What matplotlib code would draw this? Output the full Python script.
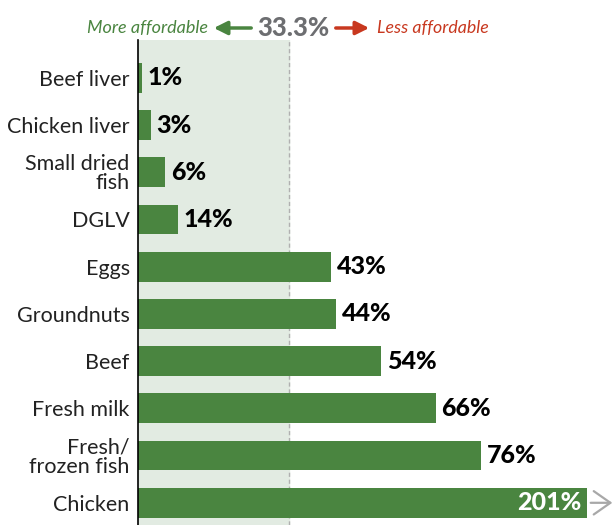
import matplotlib.pyplot as plt

plt.rcParams['font.family'] = ['Lato', 'DejaVu Sans']

# データ
foods = ['Beef liver', 'Chicken liver', 'Small dried\nfish', 'DGLV', 'Eggs',
         'Groundnuts', 'Beef', 'Fresh milk', 'Fresh/\nfrozen fish', 'Chicken']
# bar lengths as drawn in the picture (DGLV bar is drawn shorter than its label)
bar_lengths = [0.9, 2.9, 6, 8.8, 42.6, 43.7, 53.6, 65.6, 75.7, 201]
labels = ['1%', '3%', '6%', '14%', '43%', '44%', '54%', '66%', '76%', '201%']
threshold = 33.3
x_max = 99

green = '#4a8540'
red = '#c8381f'
gray = '#6d6e71'

fig = plt.figure(figsize=(6.16, 5.25), dpi=100)
ax = fig.add_axes([138/616, 0, (587-138)/616, 1 - 40/525])

ypos = list(range(len(foods)))
ax.axvspan(0, threshold, color='#e2ebe2', zorder=0)
ax.axvline(threshold, color='#b0b0b0', linestyle=(0, (3, 2)), linewidth=1, zorder=1)
ax.barh(ypos, bar_lengths, height=0.63, color=green, zorder=2)

# 値ラベル
for y, v, lab in zip(ypos, bar_lengths, labels):
    if v > x_max:
        ax.annotate(lab, xy=(x_max, y), xytext=(-4, 0), textcoords='offset points',
                    ha='right', va='center', fontsize=18, fontweight='black', color='white')
        ax.annotate('', xy=(105.2, y), xytext=(x_max + 0.2, y),
                    arrowprops=dict(arrowstyle='->, head_length=0.5, head_width=0.35',
                                    color='#a8a8a8', lw=1.6, mutation_scale=24),
                    annotation_clip=False)
    else:
        ax.annotate(lab, xy=(v, y), xytext=(4, 0), textcoords='offset points',
                    ha='left', va='center', fontsize=18, fontweight='black', color='black')

ax.set_xlim(0, x_max)
ax.set_ylim(9.47, -0.8)
ax.set_yticks(ypos)
ax.set_yticklabels(foods, fontsize=15.5, linespacing=0.95, color='#222222')
ax.tick_params(axis='y', length=0, pad=6)
ax.set_xticks([])
for s in ['top', 'right', 'bottom']:
    ax.spines[s].set_visible(False)
ax.spines['left'].set_color('black')
ax.spines['left'].set_linewidth(1.2)

# ヘッダー
yh = 1 - 28/525
fig.text(208/616, yh, 'More affordable', ha='right', va='center', fontsize=13,
         style='italic', color=green)
fig.text(293/616, yh, '33.3%', ha='center', va='center', fontsize=18.5,
         fontweight='black', color=gray)
fig.text(377/616, yh, 'Less affordable', ha='left', va='center', fontsize=12.8,
         style='italic', color=red)
ax.annotate('', xy=(211/616, yh), xytext=(254/616, yh), xycoords='figure fraction',
            arrowprops=dict(arrowstyle='-|>', color=green, lw=2.5, mutation_scale=20))
ax.annotate('', xy=(372/616, yh), xytext=(333/616, yh), xycoords='figure fraction',
            arrowprops=dict(arrowstyle='-|>', color=red, lw=2.5, mutation_scale=20))

plt.savefig('out.png', dpi=100)
